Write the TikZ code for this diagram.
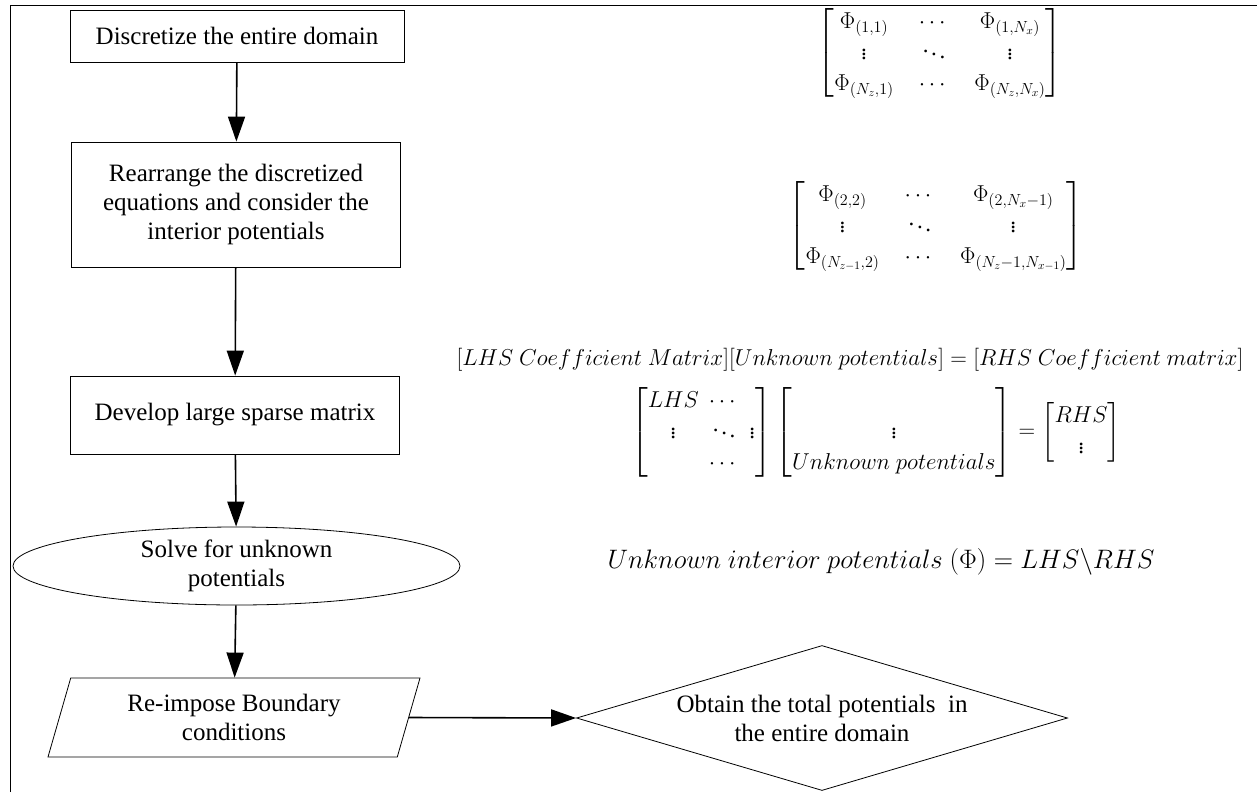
\RequirePackage{fix-cm}
\documentclass[tikz,border=0pt]{standalone}
\usepackage{amsmath}
\usepackage{fontspec}
\setmainfont{Liberation Serif}
\usetikzlibrary{shapes.geometric,arrows.meta}
\begin{document}
\begin{tikzpicture}[x=1pt, y=-1pt, line width=0.8pt,
    every node/.style={font=\fontsize{25}{29}\selectfont},
    stepbox/.style={draw, rectangle, inner sep=0pt, align=center},
    flow/.style={-{Triangle[length=25pt,width=17pt]}, line width=1.6pt},
    eqn/.style={font=\fontsize{23}{31}\selectfont},
    widemat/.style={eqn, execute at begin node={\setlength{\arraycolsep}{12.5pt}}}]
    \useasboundingbox (0,0) rectangle (1257,792);
    \draw (10,792) -- (10,5) -- (1257,5);%
    % flow chart
    \node[stepbox, minimum width=334pt, minimum height=52pt] (discretize) 
        at (237,36) {Discretize the entire domain};%
    \node[stepbox, minimum width=329pt, minimum height=125pt] (rearrange) 
        at (236,204.5) {Rearrange the discretized\\ equations and consider the\\ 
        interior potentials};%
    \node[stepbox, minimum width=329pt, minimum height=78pt] (develop) 
        at (235,415) {Develop large sparse matrix};%
    \node[draw, ellipse, minimum width=447pt, minimum height=78pt, inner sep=0pt, 
        inner ysep=-4pt, align=center] (solve) at (236.5,566) 
        {Solve for unknown\\ potentials};%
    \node[draw, trapezium, trapezium left angle=64, trapezium right angle=116, 
        trapezium stretches body, minimum width=372pt, minimum height=79pt, 
        inner sep=0pt, align=center] (reimpose) at (234,717.5) 
        {Re-impose Boundary\\ conditions};%
    \node[draw, diamond, aspect=3.39, minimum width=491pt, minimum height=145pt, 
        inner sep=0pt, align=center] (obtain) at (822,718) 
        {Obtain the total potentials\ \ in\\ the entire domain};%
    \draw[flow] (discretize) -- (rearrange);%
    \draw[flow] (rearrange) -- (develop);%
    \draw[flow] (develop) -- (solve);%
    \draw[flow] (solve) -- (reimpose);%
    \draw[flow] (reimpose.right side) -- (obtain.west);%
    % equations
    \node[widemat] (domainmat) at (940,53) {$\begin{bmatrix}\Phi_{(1,1)} & \cdots & 
        \Phi_{(1,N_x)}\\ \vdots & \ddots & \vdots\\ \Phi_{(N_z,1)} & \cdots & 
        \Phi_{(N_z,N_x)}\end{bmatrix}$};%
    \node[widemat] (interiormat) at (936,226) {$\begin{bmatrix}\Phi_{(2,2)} & \cdots & 
        \Phi_{(2,N_x-1)}\\ \vdots & \ddots & \vdots\\ \Phi_{(N_{z-1},2)} & \cdots & 
        \Phi_{(N_z-1,N_{x-1})}\end{bmatrix}$};%
    \node[eqn] (wordeq) at (850,360) {$[LHS\ Coefficient\ Matrix][Unknown\ 
        potentials]=[RHS\ Coefficient\ matrix]$};%
    \node[eqn] (sparseeq) at (876,432) {$\begin{bmatrix}LHS & \cdots & \\ \vdots & 
        \ddots & \vdots\\ & \cdots & \end{bmatrix}\begin{bmatrix}\\ \vdots\\ 
        Unknown\ potentials\end{bmatrix}=\begin{bmatrix}RHS\\ \vdots\\ 
        \end{bmatrix}$};%
    \node[font=\fontsize{26.7}{31}\selectfont] (solveeq) at (881,562) 
        {$Unknown\ interior\ potentials\ (\Phi)=LHS\backslash RHS$};%
\end{tikzpicture}
\end{document}
